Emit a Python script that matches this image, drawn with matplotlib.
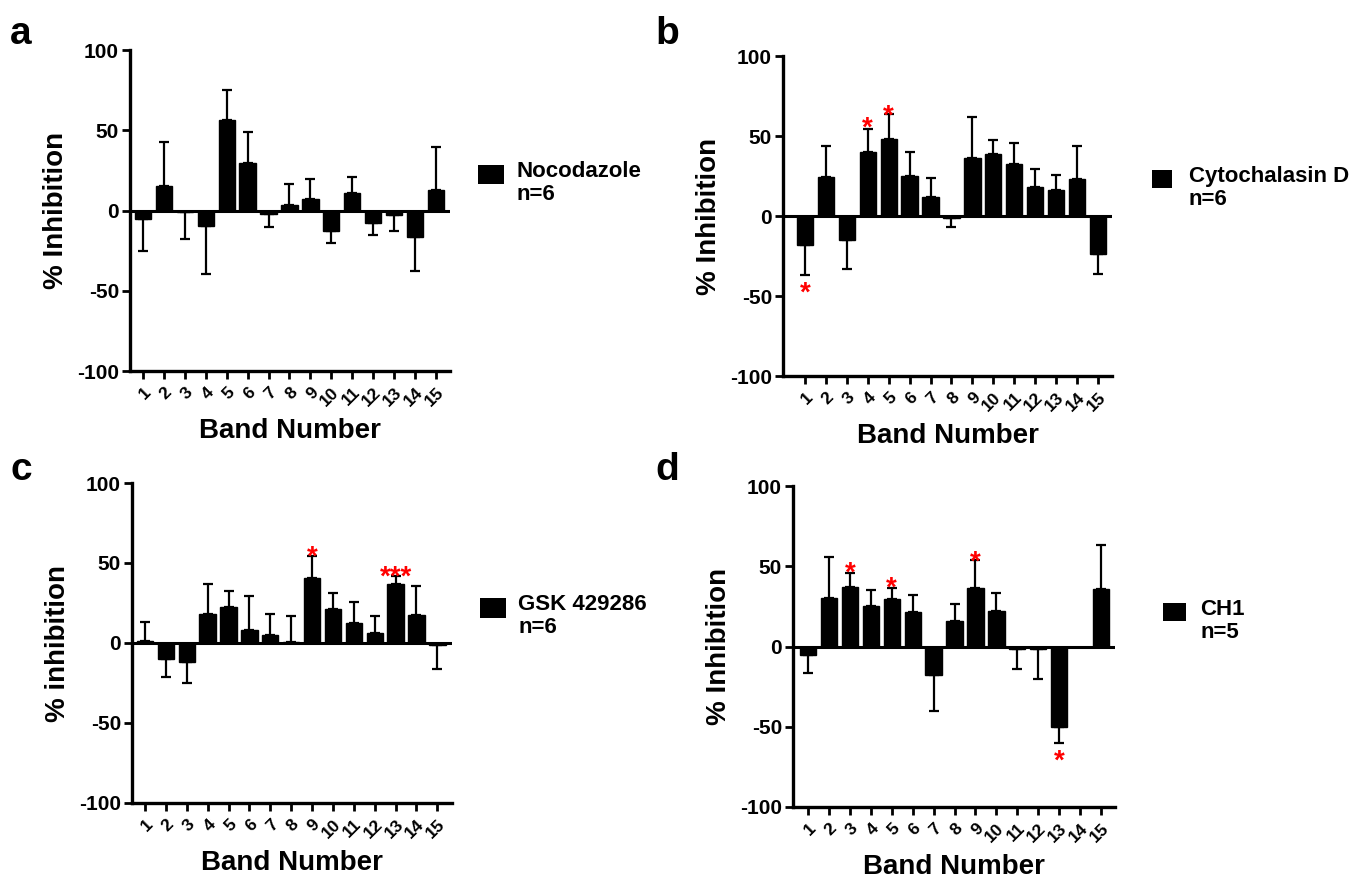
import matplotlib
matplotlib.use("Agg")
import matplotlib.pyplot as plt
from matplotlib.patches import Rectangle
import numpy as np

plt.rcParams['font.family'] = ['Liberation Sans', 'DejaVu Sans']
plt.rcParams['font.weight'] = 'bold'

bands = list(range(1, 16))
band_labels = [str(b) for b in bands]

mean_a = [-5.4, 15.4, -1.2, -9.8, 56.3, 29.7, -1.9, 3.5, 6.9, -12.7, 10.6, -7.9, -2.5, -16.2, 12.9]
sem_a = [19.6, 27.0, 16.7, 29.7, 18.5, 19.3, 8.5, 13.1, 12.6, 7.7, 10.4, 7.1, 10.4, 21.4, 26.8]

mean_b = [-17.9, 24.6, -14.8, 39.8, 47.9, 25.0, 11.9, -1.2, 36.5, 39.0, 32.3, 18.3, 16.5, 23.1, -23.8]
sem_b = [19.0, 18.9, 18.5, 14.8, 15.6, 15.0, 11.9, 5.7, 25.2, 8.7, 13.1, 11.3, 9.1, 20.6, 12.5]

mean_c = [1.5, -10.0, -11.9, 18.1, 22.3, 8.1, 5.2, 0.6, 40.8, 21.0, 12.7, 6.5, 36.7, 17.3, -1.0]
sem_c = [11.8, 11.0, 12.9, 18.9, 10.4, 21.1, 13.1, 16.1, 13.8, 10.5, 13.1, 10.4, 5.2, 18.5, 15.0]

mean_d = [-5.0, 30.3, 36.9, 25.5, 29.7, 21.2, -18.0, 16.0, 36.7, 22.2, -1.7, -1.7, -50.4, 0.0, 36.1]
sem_d = [11.2, 25.7, 9.1, 9.4, 6.8, 10.8, 22.0, 10.6, 17.0, 11.4, 12.3, 18.6, 10.0, 0.0, 26.9]

stars_b = [(1, -43, '*'), (4, 60, '*'), (5, 68, '*')]
stars_c = [(9, 59, '*'), (13, 46.5, '***')]
stars_d = [(3, 51, '*'), (5, 41.5, '*'), (9, 58, '*'), (13, -66, '*')]

ylabels = ['% Inhibition', '% Inhibition', '% inhibition', '% Inhibition']
legend_names = ['Nocodazole', 'Cytochalasin D', 'GSK 429286', 'CH1']
legend_n = ['n=6', 'n=6', 'n=6', 'n=5']
letters = ['a', 'b', 'c', 'd']

W, H = 1371, 882
fig = plt.figure(figsize=(W / 100, H / 100), dpi=100)

def fx(px):
    return px / W

def fy(py):
    return 1 - py / H

# axes boxes in pixels: left, right, top, bottom
boxes = [(130, 450, 50, 371), (783, 1112, 56, 376), (132, 452, 483, 803), (793, 1115, 486, 807)]
xlims = [(0.38, 15.67), (-0.05, 15.67), (0.38, 15.7), (0.28, 15.67)]
# legend square (x0, x1, y0, y1) and text x
legends = [(478, 504, 165, 184, 517), (1152, 1172, 170, 188, 1189),
           (480, 506, 598, 618, 518), (1163, 1186, 603, 621, 1200)]
letter_pos = [(10, 44), (655, 44), (10, 480), (655, 480)]

means = [mean_a, mean_b, mean_c, mean_d]
sems = [sem_a, sem_b, sem_c, sem_d]
stars = [[], stars_b, stars_c, stars_d]

for i in range(4):
    l, r, t, b = boxes[i]
    ax = fig.add_axes([fx(l), fy(b), (r - l) / W, (b - t) / H])
    m = np.array(means[i])
    s = np.array(sems[i])
    ax.bar(bands, m, width=0.78, color='black', edgecolor='black', zorder=2)
    lower = np.where(m < 0, s, 0)
    upper = np.where(m >= 0, s, 0)
    mask = s > 0
    ax.errorbar(np.array(bands)[mask], m[mask], yerr=[lower[mask], upper[mask]],
                fmt='none', ecolor='black', elinewidth=1.6, capsize=3.4, capthick=1.6, zorder=3)
    ax.axhline(0, color='black', lw=2.2, zorder=4)
    ax.set_ylim(-100, 100)
    ax.set_xlim(*xlims[i])
    ax.set_yticks([-100, -50, 0, 50, 100])
    ax.set_yticklabels(['-100', '-50', '0', '50', '100'], fontsize=15, fontweight='bold')
    ax.set_xticks(bands)
    ax.set_xticklabels(band_labels, fontsize=12.5, fontweight='bold', rotation=45,
                       ha='right', rotation_mode='anchor')
    for side in ['top', 'right']:
        ax.spines[side].set_visible(False)
    for side in ['left', 'bottom']:
        ax.spines[side].set_linewidth(2.4)
    ax.tick_params(axis='both', direction='out', length=6, width=2.0, pad=2)
    ax.tick_params(axis='x', pad=4)
    ax.set_ylabel(ylabels[i], fontsize=20, fontweight='bold', labelpad=6)
    ax.set_xlabel('Band Number', fontsize=20, fontweight='bold', labelpad=6)
    for (bx, by, txt) in stars[i]:
        ax.annotate(txt, xy=(bx, by), xytext=(0, -0.58 * 20), textcoords='offset points',
                    ha='center', va='baseline', color='red', fontsize=20, fontweight='bold',
                    zorder=5)
    x0, x1, y0, y1, tx = legends[i]
    fig.add_artist(Rectangle((fx(x0), fy(y1)), (x1 - x0) / W, (y1 - y0) / H,
                             transform=fig.transFigure, facecolor='black', edgecolor='none'))
    fig.text(fx(tx), fy(y0 - 4), legend_names[i] + '\n' + legend_n[i], fontsize=16,
             fontweight='bold', ha='left', va='top', linespacing=1.15)
    lx, ly = letter_pos[i]
    fig.text(fx(lx), fy(ly), letters[i], fontsize=28, fontweight='bold', ha='left', va='baseline')

fig.savefig('out.png', dpi=100)
